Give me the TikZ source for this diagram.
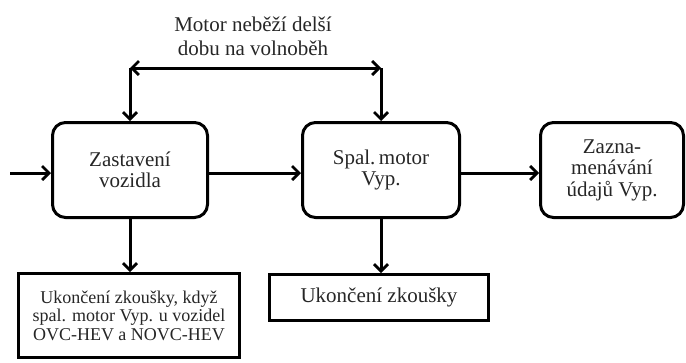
\documentclass[tikz,border=0pt]{standalone}
\usepackage{fontspec}
\setmainfont{Liberation Serif}
\usepackage{tikz}
\usetikzlibrary{arrows.meta}

\tikzset{
	roundbox/.style={draw, line width=3pt, rounded corners=13pt, align=center, inner sep=0pt,
		font=\fontsize{21}{21.5}\selectfont, text=black!85},
	plainbox/.style={draw, line width=3pt, align=center, inner sep=0pt,
		font=\fontsize{18}{18.5}\selectfont, text=black!85},
	flow/.style={line width=3pt, -{Straight Barb[length=7pt,width=14pt,line width=2.8pt]}},
	twoway/.style={line width=3pt, {Straight Barb[length=7pt,width=14pt,line width=2.8pt]}-{Straight Barb[length=7pt,width=14pt,line width=2.8pt]}}
}

\begin{document}
\begin{tikzpicture}[x=1pt, y=-1pt]
			%%%%% START %%%%%
			\useasboundingbox (0, 0) rectangle (686, 362);
			
			\node[roundbox, minimum width=155pt, minimum height=95pt] (stop) at (130, 170) {Zastavení\\vozidla};
			\node[roundbox, minimum width=157pt, minimum height=95pt] (iceoff) at (381, 170) {Spal.\,motor\\Vyp.};
			\node[roundbox, minimum width=143pt, minimum height=95pt] (record) at (612, 170) {Zazna-\\menávání\\údajů Vyp.};
			
			\node[plainbox, minimum width=221pt, minimum height=84pt] (endhev) at (129, 315.5) {Ukončení zkoušky, když\\spal. motor Vyp. u vozidel\\OVC-HEV a NOVC-HEV};
			\node[plainbox, minimum width=219pt, minimum height=46pt, font=\fontsize{21}{22}\selectfont] (endtest) at (379, 297.5) {Ukončení zkoušky};
			
			\node[align=center, font=\fontsize{21}{24}\selectfont, text=black!85] (idle) at (253, 36) {Motor neběží delší\\dobu na volnoběh};
			
			\coordinate (start) at (10, 173);
			\coordinate (idleL) at (130, 68);
			\coordinate (idleR) at (381, 68);
			
			\draw[flow] (start) -- (stop.west |- start);
			\draw[flow] (stop.east |- start) -- (iceoff.west |- start);
			\draw[flow] (iceoff.east |- start) -- (record.west |- start);
			
			\draw[twoway] (idleL) -- (idleR);
			\draw[flow] (idleL) -- (stop.north);
			\draw[flow] (idleR) -- (iceoff.north);
			
			\draw[flow] (stop.south) -- (endhev.north -| stop.south);
			\draw[flow] (iceoff.south) -- (endtest.north -| iceoff.south);
			%%%%% END %%%%%
\end{tikzpicture}
\end{document}
